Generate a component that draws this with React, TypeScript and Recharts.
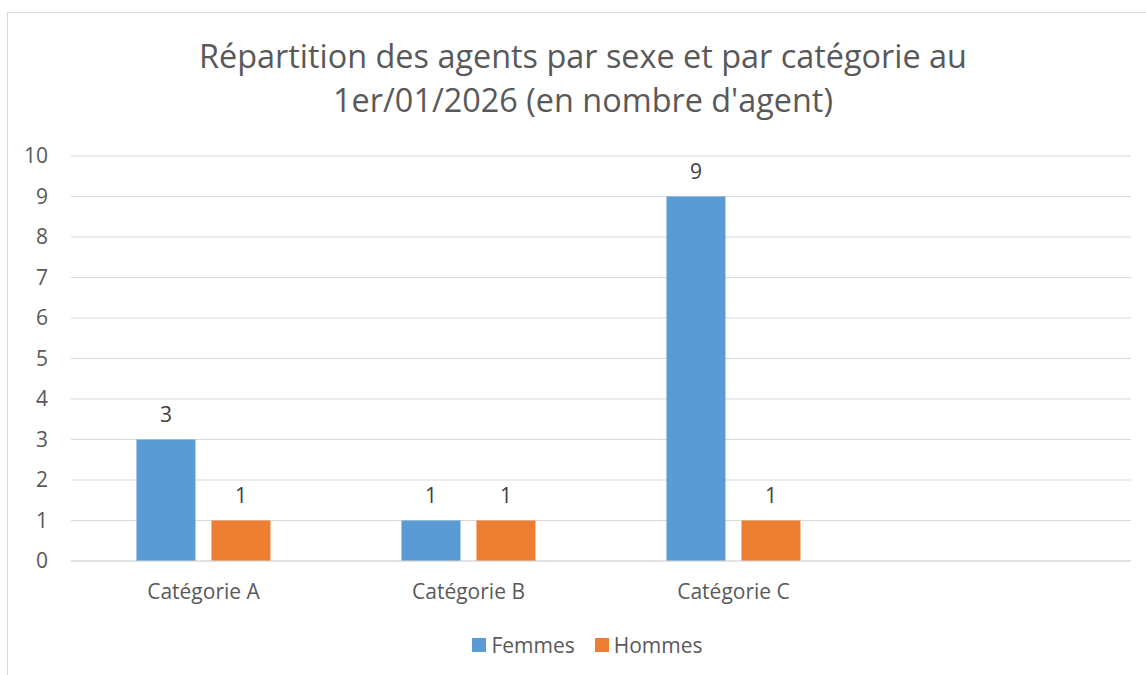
import { Bar, BarChart, CartesianGrid, LabelList, XAxis, YAxis } from "recharts";

const categories = ["Catégorie A", "Catégorie B", "Catégorie C", ""];
const femmes = [3, 1, 9, null];
const hommes = [1, 1, 1, null];
const yTicks = [0, 1, 2, 3, 4, 5, 6, 7, 8, 9, 10];

const titleLines = [
  "Répartition des agents par sexe et par catégorie au",
  "1er/01/2026 (en nombre d'agent)",
];

const FONT = "'Open Sans', Lato, sans-serif";
const TEXT = "#595959";

const data = categories.map((name, i) => ({
  name,
  femmes: femmes[i],
  hommes: hommes[i],
}));

function ChartLegend() {
  const items = [
    { label: "Femmes", color: "#5B9BD5" },
    { label: "Hommes", color: "#ED7D31" },
  ];
  return (
    <div
      style={{
        position: "absolute",
        top: 631,
        left: 0,
        width: 1146,
        display: "flex",
        justifyContent: "center",
        gap: 20,
        paddingLeft: 29,
        boxSizing: "border-box",
      }}
    >
      {items.map((it) => (
        <div key={it.label} style={{ display: "flex", alignItems: "center", gap: 5 }}>
          <span style={{ width: 14, height: 14, background: it.color, display: "inline-block" }} />
          <span style={{ fontSize: 21, color: TEXT, fontFamily: FONT }}>{it.label}</span>
        </div>
      ))}
    </div>
  );
}

export default function App() {
  return (
    <div style={{ position: "absolute", left: 0, top: 0, width: 1146, height: 675, background: "#fff", overflow: "hidden" }}>
      <div
        style={{
          position: "absolute",
          left: 7,
          top: 12,
          width: 1160,
          height: 700,
          border: "1px solid #d9d9d9",
          boxSizing: "border-box",
        }}
      />
      <div
        style={{
          position: "absolute",
          left: 0,
          top: 33,
          width: 1166,
          textAlign: "center",
          fontFamily: FONT,
          fontSize: 32.4,
          lineHeight: "44px",
          color: TEXT,
        }}
      >
        {titleLines.map((l) => (
          <div key={l}>{l}</div>
        ))}
      </div>
      <BarChart
        width={1146}
        height={675}
        data={data}
        margin={{ top: 156, right: 15, left: 0, bottom: 84 }}
        barCategoryGap="24.7%"
        barGap={16}
        style={{ position: "absolute", left: 0, top: 0 }}
      >
        <CartesianGrid vertical={false} stroke="#d9d9d9" strokeWidth={1} />
        <XAxis
          dataKey="name"
          height={30}
          axisLine={{ stroke: "#d9d9d9" }}
          tickLine={false}
          tickSize={0}
          tickMargin={23}
          tick={{ fill: TEXT, fontSize: 21, fontFamily: FONT }}
        />
        <YAxis
          width={71}
          domain={[0, 10]}
          ticks={yTicks}
          axisLine={false}
          tickLine={false}
          tickSize={0}
          tickMargin={23}
          tick={{ fill: TEXT, fontSize: 21, fontFamily: FONT }}
        />
        <Bar dataKey="femmes" name="Femmes" fill="#5B9BD5" isAnimationActive={false}>
          <LabelList dataKey="femmes" position="top" offset={18} fill="#404040" fontSize={21} fontFamily={FONT} />
        </Bar>
        <Bar dataKey="hommes" name="Hommes" fill="#ED7D31" isAnimationActive={false}>
          <LabelList dataKey="hommes" position="top" offset={18} fill="#404040" fontSize={21} fontFamily={FONT} />
        </Bar>
      </BarChart>
      <ChartLegend />
    </div>
  );
}
